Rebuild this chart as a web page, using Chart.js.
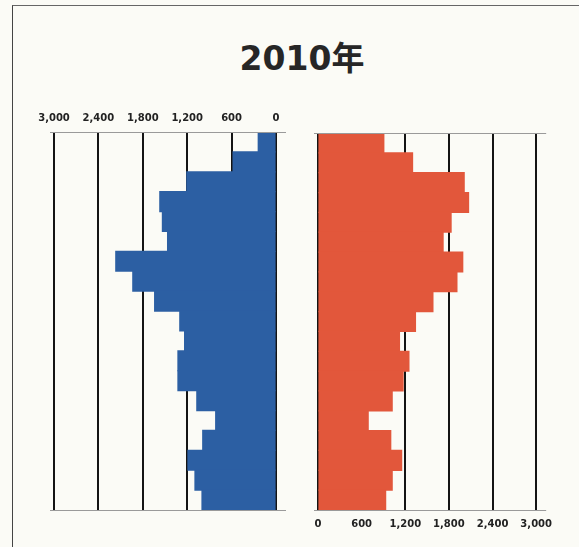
<!DOCTYPE html>
<html>
<head>
<meta charset="utf-8">
<script src="https://cdn.jsdelivr.net/npm/chart.js@4.4.0/dist/chart.umd.min.js"></script>
<style>
  html, body { margin: 0; padding: 0; background: #fbfbf6; }
  body { width: 579px; height: 547px; position: relative; overflow: hidden; }
  #frame { position: absolute; left: 12px; top: 5px; width: 580px; height: 560px;
           border-left: 1px solid #444; border-top: 1px solid #666; }
  #title { position: absolute; left: 0; width: 604px; top: 32px; text-align: center;
           font-family: "DejaVu Sans", "Noto Sans CJK JP", sans-serif; font-weight: bold;
           font-size: 33px; color: #262626; }
  #leftWrap { position: absolute; left: 34px; top: 104px; width: 252px; height: 417px; }
  #rightWrap { position: absolute; left: 300px; top: 123px; width: 260px; height: 415px; }
</style>
</head>
<body>
<div id="frame"></div>
<div id="title">2010年</div>
<div id="leftWrap"><canvas id="left"></canvas></div>
<div id="rightWrap"><canvas id="right"></canvas></div>
<script>
// Age groups, oldest at top
const ageGroups = ['90+','85-89','80-84','75-79','70-74','65-69','60-64','55-59','50-54','45-49',
                   '40-44','35-39','30-34','25-29','20-24','15-19','10-14','5-9','0-4'];
// Male (blue, left)
const maleValues = [240, 580, 1205, 1570, 1535, 1465, 2165, 1935, 1640, 1300,
                    1235, 1325, 1325, 1070, 815, 990, 1190, 1095, 1000];
// Female (red, right)
const femaleValues = [905, 1300, 2010, 2070, 1830, 1720, 1990, 1910, 1580, 1340,
                      1120, 1250, 1170, 1020, 690, 1000, 1150, 1020, 930];
// Axis ticks
const tickValues = [0, 600, 1200, 1800, 2400, 3000];
const axisMax = 3000;

const maleColor = '#2c5fa3';
const femaleColor = '#e2573b';

const frameLines = {
  id: 'frameLines',
  afterDraw(chart) {
    const { ctx, chartArea: a } = chart;
    ctx.save();
    ctx.strokeStyle = '#9a9a9a';
    ctx.lineWidth = 1;
    ctx.beginPath();
    ctx.moveTo(a.left - 4, a.top + 0.5); ctx.lineTo(a.right + 10, a.top + 0.5);
    ctx.moveTo(a.left - 4, a.bottom + 0.5); ctx.lineTo(a.right + 10, a.bottom + 0.5);
    ctx.stroke();
    ctx.restore();
  }
};

function makeOptions(reverse, position, padding) {
  return {
    indexAxis: 'y',
    responsive: true,
    maintainAspectRatio: false,
    animation: false,
    layout: { padding },
    plugins: { legend: { display: false }, tooltip: { enabled: false }, title: { display: false } },
    scales: {
      x: {
        type: 'linear',
        position,
        reverse,
        min: 0,
        max: axisMax,
        afterBuildTicks(scale) { scale.ticks = tickValues.map(v => ({ value: v })); },
        ticks: {
          padding: 8,
          color: '#222',
          font: { family: 'DejaVu Sans', size: 10, weight: 'bold' },
          callback: v => v.toLocaleString('en-US')
        },
        grid: { color: '#141414', lineWidth: 2, drawTicks: false },
        border: { display: false }
      },
      y: {
        display: false,
        grid: { display: false }
      }
    }
  };
}

new Chart(document.getElementById('left'), {
  type: 'bar',
  data: {
    labels: ageGroups,
    datasets: [{ data: maleValues, backgroundColor: maleColor, borderWidth: 0,
                 inflateAmount: 0.6, barPercentage: 1, categoryPercentage: 1 }]
  },
  options: makeOptions(true, 'top', { left: 20, right: 10, top: 0, bottom: 11 }),
  plugins: [frameLines]
});

new Chart(document.getElementById('right'), {
  type: 'bar',
  data: {
    labels: ageGroups,
    datasets: [{ data: femaleValues, backgroundColor: femaleColor, borderWidth: 0,
                 inflateAmount: 0.6, barPercentage: 1, categoryPercentage: 1 }]
  },
  options: makeOptions(false, 'bottom', { left: 18, right: 18, top: 10, bottom: 0 }),
  plugins: [frameLines]
});
</script>
</body>
</html>
